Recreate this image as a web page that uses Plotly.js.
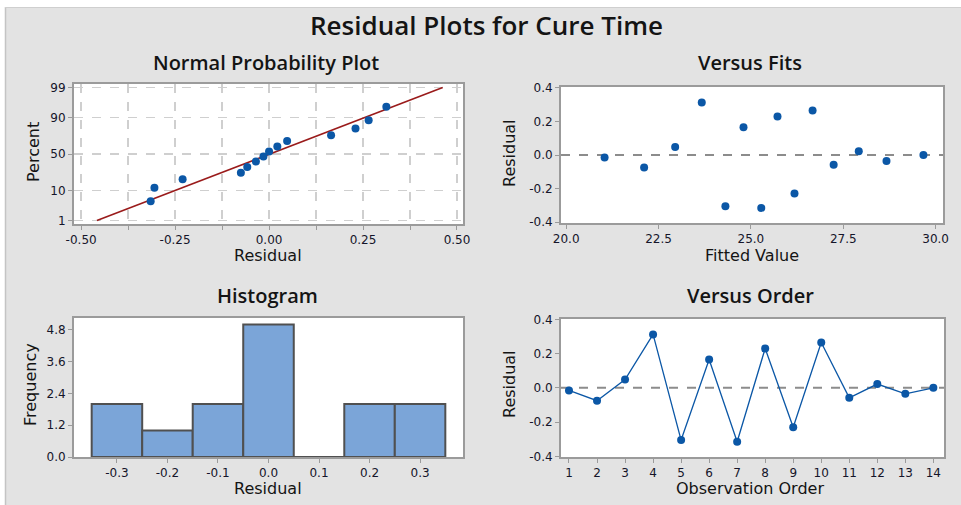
<!DOCTYPE html>
<html>
<head>
<meta charset="utf-8">
<script src="https://cdn.plot.ly/plotly-3.0.1.min.js"></script>
<style>html,body{margin:0;padding:0;background:#fff;}#chart{width:961px;height:505px;}</style>
</head>
<body>
<div id="chart"></div>
<script>
// ---- data ----
const observationOrder = [1, 2, 3, 4, 5, 6, 7, 8, 9, 10, 11, 12, 13, 14];
const fittedValues = [21.04, 22.11, 22.95, 23.67, 24.31, 24.80, 25.28, 25.72, 26.18, 26.67, 27.24, 27.92, 28.67, 29.67];
const residuals = [-0.015, -0.075, 0.048, 0.312, -0.305, 0.165, -0.315, 0.230, -0.230, 0.265, -0.058, 0.022, -0.035, 0.000];
const probPercent = [4.9, 11.8, 18.8, 25.7, 32.6, 39.6, 46.5, 53.5, 60.4, 67.4, 74.3, 81.3, 88.2, 95.1];
const fitLineX = [-0.458, 0.462];
const fitLinePercent = [1, 99];
const binCenters = [-0.3, -0.2, -0.1, 0.0, 0.1, 0.2, 0.3];
const binCounts = [2, 1, 2, 5, 0, 2, 2];

// tick labels
const npXTickVals = [-0.5, -0.375, -0.25, -0.125, 0, 0.125, 0.25, 0.375, 0.5];
const npXTickText = ['-0.50', '', '-0.25', '', '0.00', '', '0.25', '', '0.50'];
const npYTickPercent = [1, 10, 50, 90, 99];
const npYTickText = ['1', '10', '50', '90', '99'];
const histXTickText = ['-0.3', '-0.2', '-0.1', '0.0', '0.1', '0.2', '0.3'];
const histYTickVals = [0, 1.2, 2.4, 3.6, 4.8];
const histYTickText = ['0.0', '1.2', '2.4', '3.6', '4.8'];
const fitsXTickVals = [20, 22.5, 25, 27.5, 30];
const fitsXTickText = ['20.0', '22.5', '25.0', '27.5', '30.0'];
const residTickVals = [-0.4, -0.2, 0, 0.2, 0.4];
const residTickText = ['-0.4', '-0.2', '0.0', '0.2', '0.4'];

// inverse standard normal CDF (probability-scale axis transform)
function normInv(p) {
  const a = [-3.969683028665376e+01, 2.209460984245205e+02, -2.759285104469687e+02, 1.383577518672690e+02, -3.066479806614716e+01, 2.506628277459239e+00];
  const b = [-5.447609879822406e+01, 1.615858368580409e+02, -1.556989798598866e+02, 6.680131188771972e+01, -1.328068155288572e+01];
  const c = [-7.784894002430293e-03, -3.223964580411365e-01, -2.400758277161838e+00, -2.549732539343734e+00, 4.374664141464968e+00, 2.938163982698783e+00];
  const d = [7.784695709041462e-03, 3.224671290700398e-01, 2.445134137142996e+00, 3.754408661907416e+00];
  const pl = 0.02425, ph = 1 - pl;
  let q, r;
  if (p < pl) { q = Math.sqrt(-2 * Math.log(p)); return (((((c[0]*q+c[1])*q+c[2])*q+c[3])*q+c[4])*q+c[5]) / ((((d[0]*q+d[1])*q+d[2])*q+d[3])*q+1); }
  if (p <= ph) { q = p - 0.5; r = q*q; return (((((a[0]*r+a[1])*r+a[2])*r+a[3])*r+a[4])*r+a[5])*q / (((((b[0]*r+b[1])*r+b[2])*r+b[3])*r+b[4])*r+1); }
  q = Math.sqrt(-2 * Math.log(1 - p)); return -(((((c[0]*q+c[1])*q+c[2])*q+c[3])*q+c[4])*q+c[5]) / ((((d[0]*q+d[1])*q+d[2])*q+d[3])*q+1);
}
const toZ = pc => normInv(pc / 100);
const sortedResiduals = residuals.slice().sort((u, v) => u - v);

const W = 961, H = 505;
const px = v => v / W;
const py = v => 1 - v / H;

const blue = '#0b57a6';
const tickFont = {family: 'DejaVu Sans', size: 12, color: '#15152a'};
const frame = {showline: true, mirror: true, linecolor: '#9b9b9b', linewidth: 2, ticks: 'outside', ticklen: 4, tickcolor: '#9b9b9b', tickfont: tickFont, zeroline: false, showgrid: false, fixedrange: true};

const traces = [
  {type: 'scatter', mode: 'lines', x: fitLineX, y: fitLinePercent.map(toZ), line: {color: '#9a1b1b', width: 1.6}, xaxis: 'x', yaxis: 'y', hoverinfo: 'skip'},
  {type: 'scatter', mode: 'markers', x: sortedResiduals, y: probPercent.map(toZ), marker: {color: blue, size: 8, symbol: 'circle'}, xaxis: 'x', yaxis: 'y'},
  {type: 'scatter', mode: 'markers', x: fittedValues, y: residuals, marker: {color: blue, size: 8, symbol: 'circle'}, xaxis: 'x2', yaxis: 'y2'},
  {type: 'bar', x: binCenters, y: binCounts, width: 0.1, marker: {color: '#7ba5d8', line: {color: '#505050', width: 2}}, xaxis: 'x3', yaxis: 'y3'},
  {type: 'scatter', mode: 'lines+markers', x: observationOrder, y: residuals, line: {color: blue, width: 1.3}, marker: {color: blue, size: 8, symbol: 'circle'}, xaxis: 'x4', yaxis: 'y4'}
];

const titleFont = (s) => ({family: 'Open Sans', size: s, color: '#141414', weight: 600});
const axFont = {family: 'DejaVu Sans', size: 16, color: '#141414'};
function ann(text, x, y, font, rot) {
  return {text: text, x: px(x), y: py(y), xref: 'paper', yref: 'paper', showarrow: false, xanchor: 'center', yanchor: 'middle', font: font, textangle: rot || 0};
}

const layout = {
  width: W, height: H,
  margin: {l: 0, r: 0, t: 0, b: 0},
  paper_bgcolor: '#e3e3e3',
  plot_bgcolor: '#ffffff',
  showlegend: false,
  bargap: 0,
  xaxis: Object.assign({}, frame, {domain: [px(74), px(463)], range: [-0.519, 0.516], tickvals: npXTickVals, ticktext: npXTickText, showgrid: true, gridcolor: '#cfcfcf', gridwidth: 1.5, griddash: 'dash', anchor: 'y'}),
  yaxis: Object.assign({}, frame, {domain: [py(224), py(84)], range: [-2.45, 2.45], tickvals: npYTickPercent.map(toZ), ticktext: npYTickText, showgrid: true, gridcolor: '#cfcfcf', gridwidth: 1.5, griddash: 'dash', anchor: 'x'}),
  xaxis2: Object.assign({}, frame, {domain: [px(561), px(943)], range: [19.86, 30.2], tickvals: fitsXTickVals, ticktext: fitsXTickText, anchor: 'y2'}),
  yaxis2: Object.assign({}, frame, {domain: [py(223), py(87)], range: [-0.405, 0.405], tickvals: residTickVals, ticktext: residTickText, anchor: 'x2'}),
  xaxis3: Object.assign({}, frame, {domain: [px(74), px(463)], range: [-0.385, 0.385], tickvals: binCenters, ticktext: histXTickText, anchor: 'y3'}),
  yaxis3: Object.assign({}, frame, {domain: [py(457), py(318)], range: [0, 5.25], tickvals: histYTickVals, ticktext: histYTickText, anchor: 'x3'}),
  xaxis4: Object.assign({}, frame, {domain: [px(561), px(944)], range: [0.715, 14.38], tickvals: observationOrder, anchor: 'y4'}),
  yaxis4: Object.assign({}, frame, {domain: [py(457), py(319)], range: [-0.404, 0.402], tickvals: residTickVals, ticktext: residTickText, anchor: 'x4'}),
  shapes: [
    {type: 'rect', xref: 'paper', yref: 'paper', x0: 0, x1: px(5), y0: 0, y1: 1, fillcolor: '#ffffff', line: {width: 0}, layer: 'below'},
    {type: 'rect', xref: 'paper', yref: 'paper', x0: 0, x1: 1, y0: py(7), y1: 1, fillcolor: '#ffffff', line: {width: 0}, layer: 'below'},
    {type: 'line', xref: 'paper', yref: 'paper', x0: px(5.5), x1: px(5.5), y0: 0, y1: py(7), line: {color: '#c4c4c4', width: 1.5}, layer: 'below'},
    {type: 'line', xref: 'paper', yref: 'paper', x0: px(5), x1: 1, y0: py(7.5), y1: py(7.5), line: {color: '#cfcfcf', width: 1}, layer: 'below'},
    {type: 'line', xref: 'x2 domain', yref: 'y2', x0: 0, x1: 1, y0: 0, y1: 0, line: {color: '#8c8c8c', width: 2, dash: 'dash'}, layer: 'below'},
    {type: 'line', xref: 'x4 domain', yref: 'y4', x0: 0, x1: 1, y0: 0, y1: 0, line: {color: '#8c8c8c', width: 2, dash: 'dash'}, layer: 'below'}
  ],
  annotations: [
    ann('Residual Plots for Cure Time', 486, 25, titleFont(26)),
    ann('Normal Probability Plot', 266, 62, titleFont(20)),
    ann('Versus Fits', 750, 62, titleFont(20)),
    ann('Histogram', 267, 295, titleFont(20)),
    ann('Versus Order', 750, 295, titleFont(20)),
    ann('Residual', 268, 255, axFont),
    ann('Percent', 33, 152, axFont, -90),
    ann('Fitted Value', 752, 255, axFont),
    ann('Residual', 509, 153, axFont, -90),
    ann('Frequency', 30, 385, axFont, -90),
    ann('Residual', 268, 488, axFont),
    ann('Observation Order', 750, 488, axFont),
    ann('Residual', 509, 384, axFont, -90)
  ]
};

Plotly.newPlot('chart', traces, layout, {displayModeBar: false, staticPlot: true});
</script>
</body>
</html>
